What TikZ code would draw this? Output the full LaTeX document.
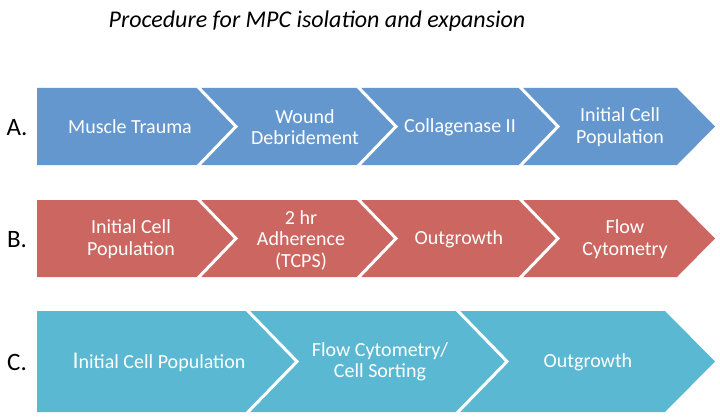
\documentclass[tikz,border=0pt]{standalone}
\usepackage{fontspec}
\setmainfont{Carlito}
\definecolor{cA}{HTML}{6397CE}
\definecolor{cB}{HTML}{CC6660}
\definecolor{cC}{HTML}{5BB8D3}
\begin{document}
\begin{tikzpicture}[x=1pt,y=-1pt,
  divider/.style={draw=white,line width=3pt,line join=miter},
  lbl/.style={text=white,align=center,inner sep=0pt,font=\fontsize{20}{21.5}\selectfont},
  rowlbl/.style={text=black,inner sep=0pt,font=\fontsize{25}{28}\selectfont}]
\useasboundingbox (0,0) rectangle (720,417);
\node[inner sep=0pt,font=\itshape\fontsize{24}{28}\selectfont] (title) at (317,21) {Procedure for MPC isolation and expansion};
% Row A
\fill[cA] (37,88) -- (677,88) -- (715,126.5) -- (677,165) -- (37,165) -- cycle;
\draw[divider] (198,87) -- (236,126.5) -- (198,166);
\draw[divider] (358,87) -- (396,126.5) -- (358,166);
\draw[divider] (520,87) -- (558,126.5) -- (520,166);
\node[rowlbl] (la) at (17,128) {A.};
\node[lbl] (a1) at (130,127) {Muscle Trauma};
\node[lbl] (a2) at (305,127) {Wound\\Debridement};
\node[lbl] (a3) at (460,127) {Collagenase II};
\node[lbl] (a4) at (620,127) {Initial Cell\\Population};
% Row B
\fill[cB] (37,200) -- (677,200) -- (715,238.5) -- (677,277) -- (37,277) -- cycle;
\draw[divider] (198,199) -- (236,238.5) -- (198,278);
\draw[divider] (358,199) -- (396,238.5) -- (358,278);
\draw[divider] (520,199) -- (558,238.5) -- (520,278);
\node[rowlbl] (lb) at (17,240) {B.};
\node[lbl] (b1) at (131,239) {Initial Cell\\Population};
\node[lbl] (b2) at (301,240) {2 hr\\Adherence\\(TCPS)};
\node[lbl] (b3) at (459,239) {Outgrowth};
\node[lbl] (b4) at (625,239) {Flow\\Cytometry};
% Row C
\fill[cC] (37,311) -- (665,311) -- (715,361.5) -- (665,412) -- (37,412) -- cycle;
\draw[divider] (247,310) -- (297,361.5) -- (247,413);
\draw[divider] (457,310) -- (507,361.5) -- (457,413);
\node[rowlbl] (lc) at (17,362) {C.};
\node[lbl] (c1) at (159,362) {{\fontsize{24}{24}\selectfont I}nitial Cell Population};
\node[lbl] (c2) at (380,362) {Flow Cytometry/\\Cell Sorting};
\node[lbl] (c3) at (588,362) {Outgrowth};
\end{tikzpicture}
\end{document}
